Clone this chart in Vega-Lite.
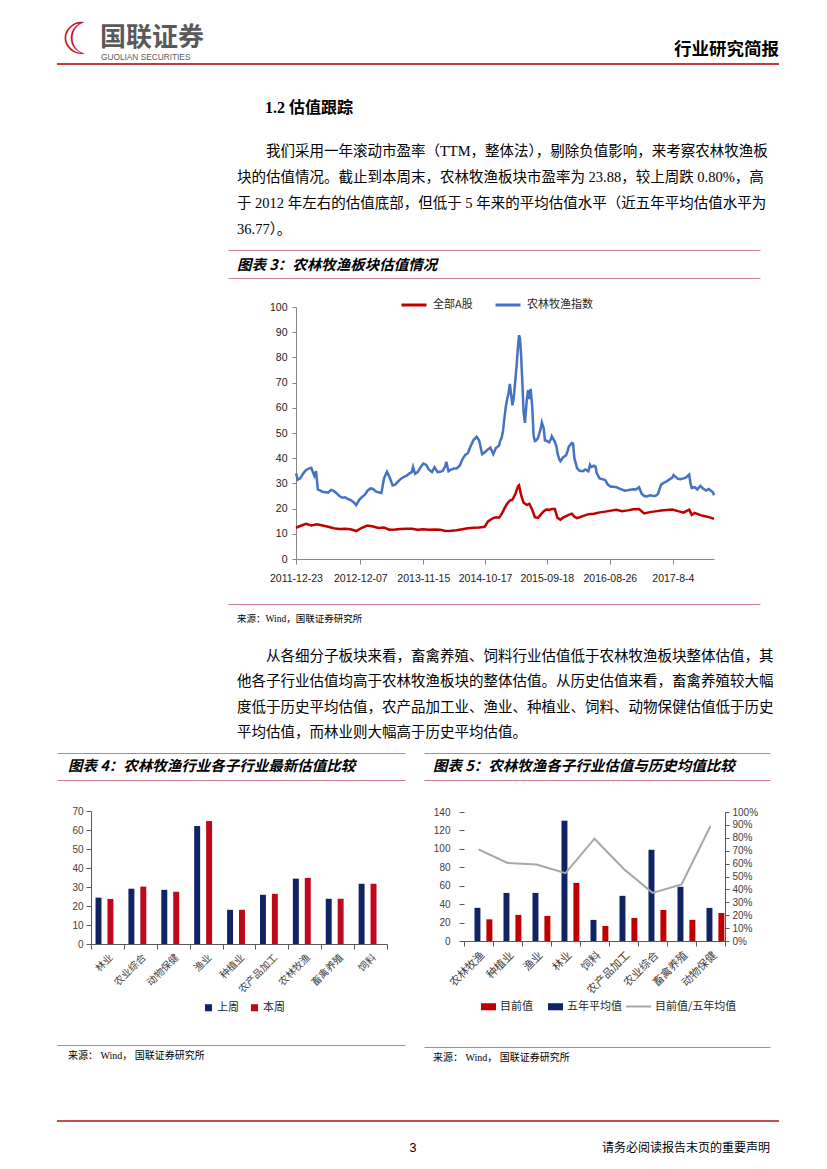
{
"$schema": "https://vega.github.io/schema/vega-lite/v6.json",
"background": "white",
"padding": {"left": 56, "top": 0, "right": 0, "bottom": 0},
"spacing": 0,
"resolve": {"scale": {"color": "independent", "stroke": "independent", "x": "independent", "y": "independent"}, "legend": {"color": "independent", "stroke": "independent"}},
"config": {
  "font": "Noto Sans CJK SC",
  "view": {"stroke": null},
  "concat": {"spacing": 0},
  "axis": {"grid": false, "labelFont": "Liberation Sans", "labelColor": "#262626", "domainColor": "#7f7f7f", "tickColor": "#7f7f7f"},
  "legend": {"labelFont": "Noto Sans CJK SC", "labelColor": "#262626", "labelLimit": 0},
  "text": {"color": "#000"}
},
"datasets": {
  "pe": [
    {"d":"2011-12-23","s":"农林牧渔指数","v":34},{"d":"2012-01-01","s":"农林牧渔指数","v":31.5},{"d":"2012-01-15","s":"农林牧渔指数","v":32},{"d":"2012-02-01","s":"农林牧渔指数","v":34},{"d":"2012-02-15","s":"农林牧渔指数","v":35.2},{"d":"2012-03-01","s":"农林牧渔指数","v":35.9},{"d":"2012-03-15","s":"农林牧渔指数","v":36.2},{"d":"2012-04-01","s":"农林牧渔指数","v":33},{"d":"2012-04-10","s":"农林牧渔指数","v":34.9},{"d":"2012-04-20","s":"农林牧渔指数","v":27.6},{"d":"2012-05-01","s":"农林牧渔指数","v":27.2},{"d":"2012-05-15","s":"农林牧渔指数","v":26.7},{"d":"2012-06-01","s":"农林牧渔指数","v":26.5},{"d":"2012-06-15","s":"农林牧渔指数","v":26.3},{"d":"2012-07-01","s":"农林牧渔指数","v":27.4},{"d":"2012-07-15","s":"农林牧渔指数","v":27},{"d":"2012-08-01","s":"农林牧渔指数","v":26},{"d":"2012-08-15","s":"农林牧渔指数","v":25},{"d":"2012-09-01","s":"农林牧渔指数","v":24.3},{"d":"2012-09-15","s":"农林牧渔指数","v":24.5},{"d":"2012-10-01","s":"农林牧渔指数","v":23.8},{"d":"2012-10-15","s":"农林牧渔指数","v":23.4},{"d":"2012-11-01","s":"农林牧渔指数","v":22.5},{"d":"2012-11-15","s":"农林牧渔指数","v":21.4},{"d":"2012-12-01","s":"农林牧渔指数","v":23.5},{"d":"2012-12-15","s":"农林牧渔指数","v":24.5},{"d":"2013-01-01","s":"农林牧渔指数","v":25.5},{"d":"2013-01-15","s":"农林牧渔指数","v":27.1},{"d":"2013-02-01","s":"农林牧渔指数","v":28},{"d":"2013-02-15","s":"农林牧渔指数","v":27.8},{"d":"2013-03-01","s":"农林牧渔指数","v":26.8},{"d":"2013-03-15","s":"农林牧渔指数","v":26.5},{"d":"2013-04-01","s":"农林牧渔指数","v":26.2},{"d":"2013-04-15","s":"农林牧渔指数","v":32},{"d":"2013-05-01","s":"农林牧渔指数","v":34.6},{"d":"2013-05-15","s":"农林牧渔指数","v":32.5},{"d":"2013-06-01","s":"农林牧渔指数","v":29.2},{"d":"2013-06-15","s":"农林牧渔指数","v":29.5},{"d":"2013-07-01","s":"农林牧渔指数","v":30.8},{"d":"2013-07-15","s":"农林牧渔指数","v":31.8},{"d":"2013-08-01","s":"农林牧渔指数","v":32.6},{"d":"2013-08-15","s":"农林牧渔指数","v":33},{"d":"2013-09-01","s":"农林牧渔指数","v":34},{"d":"2013-09-13","s":"农林牧渔指数","v":34.5},{"d":"2013-09-20","s":"农林牧渔指数","v":36.6},{"d":"2013-10-01","s":"农林牧渔指数","v":33.8},{"d":"2013-10-15","s":"农林牧渔指数","v":34.5},{"d":"2013-11-01","s":"农林牧渔指数","v":36.5},{"d":"2013-11-15","s":"农林牧渔指数","v":37.9},{"d":"2013-12-01","s":"农林牧渔指数","v":37.3},{"d":"2013-12-15","s":"农林牧渔指数","v":35.5},{"d":"2014-01-01","s":"农林牧渔指数","v":34.5},{"d":"2014-01-15","s":"农林牧渔指数","v":36.4},{"d":"2014-02-01","s":"农林牧渔指数","v":34.5},{"d":"2014-02-15","s":"农林牧渔指数","v":34.6},{"d":"2014-03-01","s":"农林牧渔指数","v":35},{"d":"2014-03-15","s":"农林牧渔指数","v":37},{"d":"2014-03-20","s":"农林牧渔指数","v":38.6},{"d":"2014-04-01","s":"农林牧渔指数","v":34.8},{"d":"2014-04-15","s":"农林牧渔指数","v":35.5},{"d":"2014-05-01","s":"农林牧渔指数","v":35.9},{"d":"2014-05-15","s":"农林牧渔指数","v":35.9},{"d":"2014-06-01","s":"农林牧渔指数","v":37},{"d":"2014-06-15","s":"农林牧渔指数","v":39.5},{"d":"2014-07-01","s":"农林牧渔指数","v":41.3},{"d":"2014-07-15","s":"农林牧渔指数","v":42},{"d":"2014-08-01","s":"农林牧渔指数","v":45},{"d":"2014-08-15","s":"农林牧渔指数","v":47.2},{"d":"2014-09-01","s":"农林牧渔指数","v":48.5},{"d":"2014-09-15","s":"农林牧渔指数","v":47},{"d":"2014-10-01","s":"农林牧渔指数","v":41.6},{"d":"2014-10-15","s":"农林牧渔指数","v":42.3},{"d":"2014-11-01","s":"农林牧渔指数","v":43.5},{"d":"2014-11-15","s":"农林牧渔指数","v":44.2},{"d":"2014-12-01","s":"农林牧渔指数","v":41.6},{"d":"2014-12-15","s":"农林牧渔指数","v":44},{"d":"2015-01-01","s":"农林牧渔指数","v":45},{"d":"2015-01-08","s":"农林牧渔指数","v":47},{"d":"2015-01-15","s":"农林牧渔指数","v":48},{"d":"2015-01-23","s":"农林牧渔指数","v":51},{"d":"2015-02-01","s":"农林牧渔指数","v":57},{"d":"2015-02-08","s":"农林牧渔指数","v":61},{"d":"2015-02-15","s":"农林牧渔指数","v":63.7},{"d":"2015-02-22","s":"农林牧渔指数","v":65.9},{"d":"2015-03-01","s":"农林牧渔指数","v":69.5},{"d":"2015-03-08","s":"农林牧渔指数","v":65},{"d":"2015-03-15","s":"农林牧渔指数","v":61},{"d":"2015-03-22","s":"农林牧渔指数","v":64},{"d":"2015-04-01","s":"农林牧渔指数","v":72},{"d":"2015-04-08","s":"农林牧渔指数","v":78},{"d":"2015-04-15","s":"农林牧渔指数","v":85},{"d":"2015-04-20","s":"农林牧渔指数","v":88.8},{"d":"2015-04-25","s":"农林牧渔指数","v":87.5},{"d":"2015-05-01","s":"农林牧渔指数","v":81},{"d":"2015-05-08","s":"农林牧渔指数","v":70},{"d":"2015-05-15","s":"农林牧渔指数","v":58},{"d":"2015-05-22","s":"农林牧渔指数","v":54},{"d":"2015-06-01","s":"农林牧渔指数","v":63},{"d":"2015-06-08","s":"农林牧渔指数","v":67},{"d":"2015-06-15","s":"农林牧渔指数","v":63.5},{"d":"2015-06-22","s":"农林牧渔指数","v":67.5},{"d":"2015-07-01","s":"农林牧渔指数","v":60},{"d":"2015-07-08","s":"农林牧渔指数","v":49},{"d":"2015-07-15","s":"农林牧渔指数","v":46.8},{"d":"2015-07-22","s":"农林牧渔指数","v":47},{"d":"2015-08-01","s":"农林牧渔指数","v":48},{"d":"2015-08-15","s":"农林牧渔指数","v":51.5},{"d":"2015-08-22","s":"农林牧渔指数","v":54.2},{"d":"2015-09-01","s":"农林牧渔指数","v":52},{"d":"2015-09-08","s":"农林牧渔指数","v":47},{"d":"2015-09-15","s":"农林牧渔指数","v":47},{"d":"2015-10-01","s":"农林牧渔指数","v":46.3},{"d":"2015-10-10","s":"农林牧渔指数","v":47.5},{"d":"2015-10-15","s":"农林牧渔指数","v":48.7},{"d":"2015-11-01","s":"农林牧渔指数","v":46.5},{"d":"2015-11-10","s":"农林牧渔指数","v":44.5},{"d":"2015-11-15","s":"农林牧渔指数","v":42},{"d":"2015-11-25","s":"农林牧渔指数","v":39.5},{"d":"2015-12-01","s":"农林牧渔指数","v":38.8},{"d":"2015-12-15","s":"农林牧渔指数","v":40.3},{"d":"2016-01-01","s":"农林牧渔指数","v":41.2},{"d":"2016-01-10","s":"农林牧渔指数","v":43},{"d":"2016-01-15","s":"农林牧渔指数","v":44.5},{"d":"2016-02-01","s":"农林牧渔指数","v":46},{"d":"2016-02-08","s":"农林牧渔指数","v":45.8},{"d":"2016-02-15","s":"农林牧渔指数","v":40},{"d":"2016-03-01","s":"农林牧渔指数","v":36},{"d":"2016-03-15","s":"农林牧渔指数","v":35},{"d":"2016-04-01","s":"农林牧渔指数","v":34.8},{"d":"2016-04-15","s":"农林牧渔指数","v":35.5},{"d":"2016-05-01","s":"农林牧渔指数","v":34.8},{"d":"2016-05-10","s":"农林牧渔指数","v":37.3},{"d":"2016-05-15","s":"农林牧渔指数","v":36.5},{"d":"2016-06-01","s":"农林牧渔指数","v":37},{"d":"2016-06-10","s":"农林牧渔指数","v":36.5},{"d":"2016-06-15","s":"农林牧渔指数","v":34.2},{"d":"2016-07-01","s":"农林牧渔指数","v":32},{"d":"2016-07-15","s":"农林牧渔指数","v":31.7},{"d":"2016-08-01","s":"农林牧渔指数","v":31.3},{"d":"2016-08-15","s":"农林牧渔指数","v":29.5},{"d":"2016-09-01","s":"农林牧渔指数","v":28.7},{"d":"2016-09-15","s":"农林牧渔指数","v":28.7},{"d":"2016-10-01","s":"农林牧渔指数","v":28.5},{"d":"2016-10-15","s":"农林牧渔指数","v":28},{"d":"2016-11-01","s":"农林牧渔指数","v":27.5},{"d":"2016-11-15","s":"农林牧渔指数","v":27.1},{"d":"2016-12-01","s":"农林牧渔指数","v":27.3},{"d":"2016-12-15","s":"农林牧渔指数","v":27.5},{"d":"2017-01-01","s":"农林牧渔指数","v":27.7},{"d":"2017-01-15","s":"农林牧渔指数","v":27.6},{"d":"2017-02-01","s":"农林牧渔指数","v":28.5},{"d":"2017-02-15","s":"农林牧渔指数","v":26},{"d":"2017-03-01","s":"农林牧渔指数","v":25},{"d":"2017-03-15","s":"农林牧渔指数","v":24.8},{"d":"2017-04-01","s":"农林牧渔指数","v":25.3},{"d":"2017-04-15","s":"农林牧渔指数","v":25.1},{"d":"2017-05-01","s":"农林牧渔指数","v":25},{"d":"2017-05-15","s":"农林牧渔指数","v":25.8},{"d":"2017-06-01","s":"农林牧渔指数","v":29.5},{"d":"2017-06-15","s":"农林牧渔指数","v":30.2},{"d":"2017-07-01","s":"农林牧渔指数","v":30.8},{"d":"2017-07-15","s":"农林牧渔指数","v":31.5},{"d":"2017-08-01","s":"农林牧渔指数","v":32.3},{"d":"2017-08-08","s":"农林牧渔指数","v":33.3},{"d":"2017-08-15","s":"农林牧渔指数","v":32.8},{"d":"2017-09-01","s":"农林牧渔指数","v":31.8},{"d":"2017-09-15","s":"农林牧渔指数","v":31.7},{"d":"2017-10-01","s":"农林牧渔指数","v":32},{"d":"2017-10-15","s":"农林牧渔指数","v":32.4},{"d":"2017-11-01","s":"农林牧渔指数","v":33.5},{"d":"2017-11-08","s":"农林牧渔指数","v":30},{"d":"2017-11-15","s":"农林牧渔指数","v":28.2},{"d":"2017-12-01","s":"农林牧渔指数","v":28.5},{"d":"2017-12-15","s":"农林牧渔指数","v":27.6},{"d":"2018-01-01","s":"农林牧渔指数","v":29},{"d":"2018-01-15","s":"农林牧渔指数","v":28},{"d":"2018-02-01","s":"农林牧渔指数","v":27.2},{"d":"2018-02-15","s":"农林牧渔指数","v":27.8},{"d":"2018-03-01","s":"农林牧渔指数","v":27},{"d":"2018-03-10","s":"农林牧渔指数","v":26.5},{"d":"2018-03-16","s":"农林牧渔指数","v":25.3},
    {"d":"2011-12-23","s":"全部A股","v":12.4},{"d":"2012-01-15","s":"全部A股","v":13.1},{"d":"2012-02-15","s":"全部A股","v":14},{"d":"2012-03-15","s":"全部A股","v":13.3},{"d":"2012-04-15","s":"全部A股","v":13.8},{"d":"2012-05-15","s":"全部A股","v":13.3},{"d":"2012-06-15","s":"全部A股","v":12.8},{"d":"2012-07-15","s":"全部A股","v":12.2},{"d":"2012-08-15","s":"全部A股","v":11.9},{"d":"2012-09-15","s":"全部A股","v":12},{"d":"2012-10-15","s":"全部A股","v":11.8},{"d":"2012-11-15","s":"全部A股","v":11.1},{"d":"2012-12-15","s":"全部A股","v":12.4},{"d":"2013-01-15","s":"全部A股","v":13.3},{"d":"2013-02-15","s":"全部A股","v":12.9},{"d":"2013-03-15","s":"全部A股","v":12.3},{"d":"2013-04-15","s":"全部A股","v":12.5},{"d":"2013-05-15","s":"全部A股","v":11.6},{"d":"2013-06-15","s":"全部A股","v":11.7},{"d":"2013-07-15","s":"全部A股","v":11.9},{"d":"2013-08-15","s":"全部A股","v":12},{"d":"2013-09-15","s":"全部A股","v":12},{"d":"2013-10-15","s":"全部A股","v":11.6},{"d":"2013-11-15","s":"全部A股","v":11.8},{"d":"2013-12-15","s":"全部A股","v":11.6},{"d":"2014-01-15","s":"全部A股","v":11.7},{"d":"2014-02-15","s":"全部A股","v":11.6},{"d":"2014-03-15","s":"全部A股","v":11.1},{"d":"2014-04-15","s":"全部A股","v":11.2},{"d":"2014-05-15","s":"全部A股","v":11.4},{"d":"2014-06-15","s":"全部A股","v":11.8},{"d":"2014-07-15","s":"全部A股","v":12.2},{"d":"2014-08-15","s":"全部A股","v":12.4},{"d":"2014-09-15","s":"全部A股","v":12.5},{"d":"2014-10-15","s":"全部A股","v":12.8},{"d":"2014-11-01","s":"全部A股","v":14.8},{"d":"2014-11-15","s":"全部A股","v":15.6},{"d":"2014-12-01","s":"全部A股","v":16.2},{"d":"2014-12-15","s":"全部A股","v":16.6},{"d":"2015-01-01","s":"全部A股","v":16.4},{"d":"2015-01-15","s":"全部A股","v":17.8},{"d":"2015-02-01","s":"全部A股","v":20.3},{"d":"2015-02-15","s":"全部A股","v":22},{"d":"2015-03-01","s":"全部A股","v":23.2},{"d":"2015-03-15","s":"全部A股","v":23.5},{"d":"2015-04-01","s":"全部A股","v":26},{"d":"2015-04-15","s":"全部A股","v":29},{"d":"2015-04-20","s":"全部A股","v":29.3},{"d":"2015-05-01","s":"全部A股","v":25.4},{"d":"2015-05-15","s":"全部A股","v":22.3},{"d":"2015-06-01","s":"全部A股","v":21.5},{"d":"2015-06-15","s":"全部A股","v":21.9},{"d":"2015-07-01","s":"全部A股","v":19.5},{"d":"2015-07-15","s":"全部A股","v":16.6},{"d":"2015-08-01","s":"全部A股","v":16.3},{"d":"2015-08-15","s":"全部A股","v":17.5},{"d":"2015-09-01","s":"全部A股","v":19},{"d":"2015-09-15","s":"全部A股","v":19.6},{"d":"2015-10-01","s":"全部A股","v":19.5},{"d":"2015-10-15","s":"全部A股","v":19.8},{"d":"2015-11-01","s":"全部A股","v":19.8},{"d":"2015-11-15","s":"全部A股","v":16.3},{"d":"2015-12-01","s":"全部A股","v":15.6},{"d":"2015-12-15","s":"全部A股","v":16.4},{"d":"2016-01-01","s":"全部A股","v":17},{"d":"2016-01-15","s":"全部A股","v":17.5},{"d":"2016-02-01","s":"全部A股","v":18},{"d":"2016-02-15","s":"全部A股","v":16.8},{"d":"2016-03-01","s":"全部A股","v":16.2},{"d":"2016-04-01","s":"全部A股","v":17},{"d":"2016-05-01","s":"全部A股","v":17.8},{"d":"2016-06-01","s":"全部A股","v":18},{"d":"2016-07-01","s":"全部A股","v":18.5},{"d":"2016-08-01","s":"全部A股","v":18.8},{"d":"2016-09-01","s":"全部A股","v":19.2},{"d":"2016-10-01","s":"全部A股","v":19.5},{"d":"2016-11-01","s":"全部A股","v":19},{"d":"2016-12-01","s":"全部A股","v":19.3},{"d":"2017-01-01","s":"全部A股","v":19.7},{"d":"2017-02-01","s":"全部A股","v":19.8},{"d":"2017-03-01","s":"全部A股","v":18.1},{"d":"2017-04-01","s":"全部A股","v":18.6},{"d":"2017-05-01","s":"全部A股","v":18.9},{"d":"2017-06-01","s":"全部A股","v":19.2},{"d":"2017-07-01","s":"全部A股","v":19.4},{"d":"2017-08-01","s":"全部A股","v":19.6},{"d":"2017-09-01","s":"全部A股","v":19},{"d":"2017-10-01","s":"全部A股","v":18.4},{"d":"2017-11-01","s":"全部A股","v":19.6},{"d":"2017-11-15","s":"全部A股","v":17.5},{"d":"2017-12-01","s":"全部A股","v":18.3},{"d":"2018-01-01","s":"全部A股","v":17.4},{"d":"2018-02-01","s":"全部A股","v":16.9},{"d":"2018-03-01","s":"全部A股","v":16.3},{"d":"2018-03-16","s":"全部A股","v":15.9}
  ],
  "c4": [
    {"cat":"林业","w":"上周","v":24.4},{"cat":"林业","w":"本周","v":23.7},
    {"cat":"农业综合","w":"上周","v":29.1},{"cat":"农业综合","w":"本周","v":30.2},
    {"cat":"动物保健","w":"上周","v":28.5},{"cat":"动物保健","w":"本周","v":27.5},
    {"cat":"渔业","w":"上周","v":62.1},{"cat":"渔业","w":"本周","v":64.7},
    {"cat":"种植业","w":"上周","v":18.0},{"cat":"种植业","w":"本周","v":18.0},
    {"cat":"农产品加工","w":"上周","v":25.9},{"cat":"农产品加工","w":"本周","v":26.4},
    {"cat":"农林牧渔","w":"上周","v":34.4},{"cat":"农林牧渔","w":"本周","v":34.8},
    {"cat":"畜禽养殖","w":"上周","v":23.8},{"cat":"畜禽养殖","w":"本周","v":23.8},
    {"cat":"饲料","w":"上周","v":31.7},{"cat":"饲料","w":"本周","v":31.7}
  ],
  "c5bars": [
    {"cat":"农林牧渔","k":"目前值","v":23.5},{"cat":"农林牧渔","k":"五年平均值","v":36},
    {"cat":"种植业","k":"目前值","v":28.3},{"cat":"种植业","k":"五年平均值","v":52.2},
    {"cat":"渔业","k":"目前值","v":27.2},{"cat":"渔业","k":"五年平均值","v":52.2},
    {"cat":"林业","k":"目前值","v":63.1},{"cat":"林业","k":"五年平均值","v":130.6},
    {"cat":"饲料","k":"目前值","v":16.3},{"cat":"饲料","k":"五年平均值","v":22.9},
    {"cat":"农产品加工","k":"目前值","v":25.0},{"cat":"农产品加工","k":"五年平均值","v":49.0},
    {"cat":"农业综合","k":"目前值","v":33.7},{"cat":"农业综合","k":"五年平均值","v":99.0},
    {"cat":"畜禽养殖","k":"目前值","v":22.9},{"cat":"畜禽养殖","k":"五年平均值","v":58.8},
    {"cat":"动物保健","k":"目前值","v":30.5},{"cat":"动物保健","k":"五年平均值","v":35.9}
  ],
  "c5ratio": [
    {"cat":"农林牧渔","r":0.71},{"cat":"种植业","r":0.605},{"cat":"渔业","r":0.593},{"cat":"林业","r":0.526},{"cat":"饲料","r":0.793},{"cat":"农产品加工","r":0.56},{"cat":"农业综合","r":0.373},{"cat":"畜禽养殖","r":0.438},{"cat":"动物保健","r":0.891}
  ]
},
"vconcat": [
  {
    "width": 722, "height": 63,
    "data": {"values": [{}]},
    "view": {"stroke": "#c5393d", "strokeWidth": 2, "strokeDash": [0, 785, 722, 63]},
    "layer": [
      {"mark": {"type": "text", "text": "☾", "font": "DejaVu Sans", "fontSize": 44, "fontWeight": "bold", "color": "#c8102e", "align": "left", "baseline": "middle", "dx": 4, "dy": 8}, "encoding": {"x": {"value": 0}}},
      {"mark": {"type": "text", "text": "国联证券", "fontSize": 26, "fontWeight": "bold", "color": "#595959", "align": "left", "baseline": "middle", "dx": 43, "dy": 5}, "encoding": {"x": {"value": 0}}},
      {"mark": {"type": "text", "text": "GUOLIAN SECURITIES", "font": "Liberation Sans", "fontSize": 8.3, "color": "#595959", "align": "left", "baseline": "middle", "dx": 44, "dy": 25}, "encoding": {"x": {"value": 0}}},
      {"mark": {"type": "text", "text": "行业研究简报", "fontSize": 17.5, "fontWeight": "bold", "color": "#000", "align": "right", "baseline": "middle", "dy": 17}, "encoding": {"x": {"value": "width"}}}
    ]
  },
  {
    "hconcat": [
      {"width": 170, "height": 0, "data": {"values": [{}]}, "mark": {"type": "text", "text": ""}, "encoding": {}},
      {
        "vconcat": [
          {"width": 532, "height": 61, "data": {"values": [{}]}, "mark": {"type": "text", "text": ""}, "encoding": {},
           "title": {"text": "1.2 估值跟踪", "orient": "bottom", "anchor": "start", "frame": "group", "baseline": "top", "offset": -25.6, "dx": 37, "font": "Liberation Serif, Noto Sans CJK SC", "fontSize": 16, "fontWeight": "bold", "color": "#000"}},
          {"width": 532, "height": 123, "data": {"values": [{}]}, "mark": {"type": "text", "text": ""}, "encoding": {},
           "title": {"text": ["\u200b\u3000\u3000我们采用一年滚动市盈率（TTM，整体法），剔除负值影响，来考察农林牧渔板", "块的估值情况。截止到本周末，农林牧渔板块市盈率为 23.88，较上周跌 0.80%，高", "于 2012 年左右的估值底部，但低于 5 年来的平均估值水平（近五年平均估值水平为", "36.77）。"], "orient": "bottom", "anchor": "start", "frame": "group", "baseline": "top", "offset": -103.9, "dx": 9, "font": "Liberation Serif, Noto Sans CJK SC", "fontSize": 14.5, "fontWeight": "normal", "lineHeight": 26, "color": "#000"}},
          {"width": 532, "height": 28, "data": {"values": [{}]}, "mark": {"type": "text", "text": ""}, "encoding": {},
           "view": {"stroke": "#c47d93", "strokeWidth": 1, "strokeDash": [532, 28, 532, 28]},
           "title": {"text": "图表 3：农林牧渔板块估值情况", "orient": "bottom", "anchor": "start", "frame": "group", "baseline": "top", "offset": -19.4, "dx": 9, "fontSize": 14.5, "fontWeight": "bold", "fontStyle": "italic", "color": "#000"}},
          {"width": 1, "height": 12, "data": {"values": [{}]}, "mark": {"type": "text", "text": ""}, "encoding": {}},
          {
            "hconcat": [
              {"width": 41, "height": 0, "data": {"values": [{}]}, "mark": {"type": "text", "text": ""}, "encoding": {}},
              {
                "width": 418, "height": 252,
                "data": {"name": "pe"},
                "mark": {"type": "line", "strokeWidth": 2.5},
                "encoding": {
                  "x": {"field": "d", "type": "temporal",
                        "scale": {"type": "utc", "domain": [{"year": 2011, "month": 12, "date": 23, "utc": true}, {"year": 2018, "month": 3, "date": 16, "utc": true}]},
                        "axis": {"title": null,
                                 "values": [{"year": 2011, "month": 12, "date": 23, "utc": true}, {"year": 2012, "month": 12, "date": 7, "utc": true}, {"year": 2013, "month": 11, "date": 15, "utc": true}, {"year": 2014, "month": 10, "date": 17, "utc": true}, {"year": 2015, "month": 9, "date": 18, "utc": true}, {"year": 2016, "month": 8, "date": 26, "utc": true}, {"year": 2017, "month": 8, "date": 4, "utc": true}],
                                 "labelExpr": "utcFormat(datum.value, '%Y-%m-%d') == '2017-08-04' ? '2017-8-4' : utcFormat(datum.value, '%Y-%m-%d')",
                                 "labelFontSize": 10.5, "labelColor": "#1a1a1a", "labelPadding": 9, "tickSize": 5, "labelFlush": false, "labelOverlap": false, "domainColor": "#868686", "tickColor": "#868686"}},
                  "y": {"field": "v", "type": "quantitative", "scale": {"domain": [0, 100], "nice": false},
                        "axis": {"title": null, "values": [0, 10, 20, 30, 40, 50, 60, 70, 80, 90, 100], "labelFontSize": 10.5, "labelColor": "#1a1a1a", "tickSize": 4, "labelPadding": 5, "domainColor": "#868686", "tickColor": "#868686"}},
                  "color": {"field": "s", "type": "nominal", "scale": {"domain": ["全部A股", "农林牧渔指数"], "range": ["#c00000", "#4472c4"]},
                            "legend": {"title": null, "orient": "none", "legendX": 104, "legendY": -16, "direction": "horizontal", "symbolType": "stroke", "symbolSize": 625, "symbolStrokeWidth": 3, "labelFontSize": 11, "labelOffset": 5, "columnPadding": 16}}
                }
              }
            ],
            "spacing": 0,
            "resolve": {"scale": {"color": "independent"}, "legend": {"color": "independent"}}
          },
          {"width": 1, "height": 19, "data": {"values": [{}]}, "mark": {"type": "text", "text": ""}, "encoding": {}},
          {"width": 532, "height": 147, "data": {"values": [{}]}, "mark": {"type": "text", "text": ""}, "encoding": {},
           "view": {"stroke": "#c47d93", "strokeWidth": 1, "strokeDash": [532, 900]},
           "title": {"text": "来源：Wind，国联证券研究所", "orient": "bottom", "anchor": "start", "frame": "group", "baseline": "top", "offset": -136.9, "dx": 9, "font": "Liberation Serif, Noto Sans CJK SC", "fontSize": 9.5, "fontWeight": "normal", "color": "#000",
                     "subtitle": ["\u200b\u3000\u3000从各细分子板块来看，畜禽养殖、饲料行业估值低于农林牧渔板块整体估值，其", "他各子行业估值均高于农林牧渔板块的整体估值。从历史估值来看，畜禽养殖较大幅", "度低于历史平均估值，农产品加工业、渔业、种植业、饲料、动物保健估值低于历史", "平均估值，而林业则大幅高于历史平均估值。"],
                     "subtitleFont": "Liberation Serif, Noto Sans CJK SC", "subtitleFontSize": 14.5, "subtitleColor": "#000", "subtitleLineHeight": 25.3, "subtitlePadding": 26.5}}
        ],
        "spacing": 0,
        "resolve": {"scale": {"color": "independent"}, "legend": {"color": "independent"}}
      }
    ],
    "spacing": 0,
    "resolve": {"scale": {"color": "independent"}, "legend": {"color": "independent"}}
  },
  {
    "hconcat": [
      {
        "vconcat": [
          {"width": 348, "height": 27, "data": {"values": [{}]}, "mark": {"type": "text", "text": ""}, "encoding": {},
           "view": {"stroke": "#c47d93", "strokeWidth": 1, "strokeDash": [348, 27, 348, 27]},
           "title": {"text": "图表 4：农林牧渔行业各子行业最新估值比较", "orient": "bottom", "anchor": "start", "frame": "group", "baseline": "top", "offset": -19.9, "dx": 11, "fontSize": 14.5, "fontWeight": "bold", "fontStyle": "italic", "color": "#000"}},
          {"width": 1, "height": 25, "data": {"values": [{}]}, "mark": {"type": "text", "text": ""}, "encoding": {}},
          {
            "hconcat": [
              {"width": 14, "height": 0, "data": {"values": [{}]}, "mark": {"type": "text", "text": ""}, "encoding": {}},
              {
                "width": 296, "height": 133,
                "data": {"name": "c4"},
                "mark": {"type": "bar"},
                "encoding": {
                  "x": {"field": "cat", "type": "nominal", "sort": null, "scale": {"paddingInner": 0, "paddingOuter": 0},
                        "axis": {"title": null, "labelAngle": -45, "tickBand": "extent", "labelFont": "Noto Sans CJK SC", "labelFontSize": 10, "labelColor": "#404040", "tickSize": 5, "labelPadding": 3, "domainColor": "#595959", "tickColor": "#595959"}},
                  "xOffset": {"field": "w", "type": "nominal", "sort": ["上周", "本周"], "scale": {"paddingInner": 0, "paddingOuter": 0.76}},
                  "y": {"field": "v", "type": "quantitative", "scale": {"domain": [0, 70], "nice": false},
                        "axis": {"title": null, "values": [0, 10, 20, 30, 40, 50, 60, 70], "labelFontSize": 10, "labelColor": "#404040", "tickSize": 5, "labelPadding": 3, "domainColor": "#595959", "tickColor": "#595959"}},
                  "color": {"field": "w", "type": "nominal", "scale": {"domain": ["上周", "本周"], "range": ["#0f2466", "#c0081d"]},
                            "legend": {"title": null, "orient": "none", "legendX": 112, "legendY": 191, "direction": "horizontal", "symbolType": "square", "symbolSize": 50, "labelFontSize": 11, "labelOffset": 3, "columnPadding": 10}}
                }
              }
            ],
            "spacing": 0,
            "resolve": {"scale": {"color": "independent"}, "legend": {"color": "independent"}}
          },
          {"width": 1, "height": 31, "data": {"values": [{}]}, "mark": {"type": "text", "text": ""}, "encoding": {}},
          {"width": 348, "height": 72, "data": {"values": [{}]}, "mark": {"type": "text", "text": ""}, "encoding": {},
           "view": {"stroke": "#c47d93", "strokeWidth": 1, "strokeDash": [348, 600]},
           "title": {"text": "来源： Wind， 国联证券研究所", "orient": "bottom", "anchor": "start", "frame": "group", "baseline": "top", "offset": -66.1, "dx": 11, "font": "Liberation Serif, Noto Sans CJK SC", "fontSize": 10, "fontWeight": "normal", "color": "#000"}}
        ],
        "spacing": 0,
        "resolve": {"scale": {"color": "independent"}, "legend": {"color": "independent"}}
      },
      {
        "vconcat": [
          {"width": 346, "height": 27, "data": {"values": [{}]}, "mark": {"type": "text", "text": ""}, "encoding": {},
           "view": {"stroke": "#c47d93", "strokeWidth": 1, "strokeDash": [346, 27, 346, 27]},
           "title": {"text": "图表 5：农林牧渔各子行业估值与历史均值比较", "orient": "bottom", "anchor": "start", "frame": "group", "baseline": "top", "offset": -19.9, "dx": 9, "fontSize": 14.5, "fontWeight": "bold", "fontStyle": "italic", "color": "#000"}},
          {"width": 1, "height": 26, "data": {"values": [{}]}, "mark": {"type": "text", "text": ""}, "encoding": {}},
          {
            "hconcat": [
              {"width": 9, "height": 0, "data": {"values": [{}]}, "mark": {"type": "text", "text": ""}, "encoding": {}},
              {
                "width": 261, "height": 129,
                "layer": [
                  {
                    "data": {"name": "c5bars"},
                    "mark": {"type": "bar"},
                    "encoding": {
                      "x": {"field": "cat", "type": "nominal", "sort": null, "scale": {"paddingInner": 0, "paddingOuter": 0},
                            "axis": {"title": null, "labelAngle": -45, "tickBand": "extent", "labelFont": "Noto Sans CJK SC", "labelFontSize": 11, "labelColor": "#404040", "tickSize": 5, "labelPadding": 3, "domainColor": "#595959", "tickColor": "#595959"}},
                      "xOffset": {"field": "k", "type": "nominal", "sort": ["目前值", "五年平均值"], "scale": {"paddingInner": 0, "paddingOuter": 0.61}},
                      "y": {"field": "v", "type": "quantitative", "scale": {"domain": [0, 140], "nice": false},
                            "axis": {"title": null, "values": [0, 20, 40, 60, 80, 100, 120, 140], "domain": false, "labelFontSize": 10, "labelColor": "#404040", "tickSize": 5, "labelPadding": 9, "tickColor": "#595959"}},
                      "color": {"field": "k", "type": "nominal", "scale": {"domain": ["目前值", "五年平均值"], "range": ["#c00000", "#0f2466"]},
                                "legend": {"title": null, "orient": "none", "legendX": 16, "legendY": 186, "direction": "horizontal", "symbolType": "M-1,-0.47H1V0.47H-1Z", "symbolSize": 225, "labelFontSize": 11, "labelOffset": 3, "columnPadding": 14}}
                    }
                  },
                  {
                    "data": {"name": "c5ratio"},
                    "mark": {"type": "line", "strokeWidth": 2},
                    "encoding": {
                      "x": {"field": "cat", "type": "nominal", "sort": null},
                      "y": {"field": "r", "type": "quantitative", "scale": {"domain": [0, 1], "nice": false},
                            "axis": {"title": null, "orient": "right", "values": [0, 0.1, 0.2, 0.3, 0.4, 0.5, 0.6, 0.7, 0.8, 0.9, 1], "format": ".0%", "labelFontSize": 10, "labelColor": "#404040", "tickSize": 4, "labelPadding": 3, "domainColor": "#595959", "tickColor": "#595959"}},
                      "stroke": {"datum": "目前值/五年均值", "type": "nominal", "scale": {"range": ["#a6a6a6"]},
                                 "legend": {"title": null, "orient": "none", "legendX": 161, "legendY": 181, "symbolType": "stroke", "symbolSize": 625, "symbolStrokeWidth": 2, "labelFontSize": 11, "labelOffset": 3}}
                    }
                  }
                ],
                "resolve": {"scale": {"y": "independent"}}
              }
            ],
            "spacing": 0,
            "resolve": {"scale": {"color": "independent", "stroke": "independent"}, "legend": {"color": "independent", "stroke": "independent"}}
          },
          {"width": 1, "height": 34, "data": {"values": [{}]}, "mark": {"type": "text", "text": ""}, "encoding": {}},
          {"width": 346, "height": 72, "data": {"values": [{}]}, "mark": {"type": "text", "text": ""}, "encoding": {},
           "view": {"stroke": "#c47d93", "strokeWidth": 1, "strokeDash": [346, 600]},
           "title": {"text": "来源： Wind， 国联证券研究所", "orient": "bottom", "anchor": "start", "frame": "group", "baseline": "top", "offset": -66.1, "dx": 9, "font": "Liberation Serif, Noto Sans CJK SC", "fontSize": 10, "fontWeight": "normal", "color": "#000"}}
        ],
        "spacing": 0,
        "resolve": {"scale": {"color": "independent", "stroke": "independent"}, "legend": {"color": "independent", "stroke": "independent"}}
      }
    ],
    "spacing": 17,
    "resolve": {"scale": {"color": "independent", "stroke": "independent", "x": "independent", "y": "independent"}, "legend": {"color": "independent", "stroke": "independent"}}
  },
  {
    "width": 722, "height": 50,
    "data": {"values": [{}]},
    "view": {"stroke": "#c0504d", "strokeWidth": 2, "strokeDash": [722, 900]},
    "layer": [
      {"mark": {"type": "text", "text": "3", "font": "Liberation Sans", "fontSize": 12.5, "color": "#000", "dx": -5, "dy": 2}, "encoding": {}},
      {"mark": {"type": "text", "text": "请务必阅读报告末页的重要声明", "fontSize": 12, "color": "#000", "align": "right", "dx": -9, "dy": 2}, "encoding": {"x": {"value": "width"}}}
    ]
  }
]
}
